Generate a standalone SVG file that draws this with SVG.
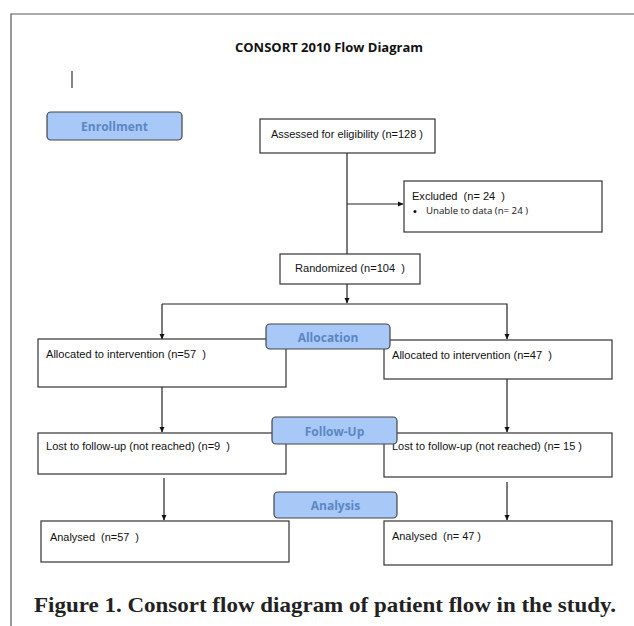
<svg xmlns="http://www.w3.org/2000/svg" width="634" height="626" viewBox="0 0 634 626">
<style>
text{white-space:pre}
.box{fill:#fff;stroke:#333;stroke-width:1.2}
.stage{fill:#a8c8f8;stroke:#444;stroke-width:1.2}
.t{font-family:"Liberation Sans",Arial,sans-serif;font-size:10px;fill:#111}
.s{font-family:"Open Sans","Liberation Sans",sans-serif;font-size:9px;fill:#111}
.st{font-family:"Open Sans","Liberation Sans",sans-serif;font-size:12px;font-weight:bold;fill:#5a87c4;text-anchor:middle}
.ln{fill:none;stroke:#222;stroke-width:1.2}
</style>
<defs>
<marker id="ah" markerWidth="6" markerHeight="6" refX="5" refY="3" orient="auto" markerUnits="userSpaceOnUse">
<path d="M0,0.5 L5.5,3 L0,5.5 Z" fill="#111"/>
</marker>
</defs>
<rect width="634" height="626" fill="#fff"/>
<path d="M634,14 H11 V626" fill="none" stroke="#555" stroke-width="1.2"/>
<text x="329" y="52" font-family="'Open Sans','Liberation Sans',sans-serif" font-size="13" font-weight="bold" fill="#111" text-anchor="middle" textLength="188" lengthAdjust="spacingAndGlyphs">CONSORT 2010 Flow Diagram</text>
<line x1="72" y1="71" x2="72" y2="88" stroke="#333" stroke-width="1.2"/>

<g id="connectors">
<path class="ln" d="M347,153 V254"/>
<path class="ln" d="M347,204 H403" marker-end="url(#ah)"/>
<path class="ln" d="M347,284 V303" marker-end="url(#ah)"/>
<path class="ln" d="M162,304 H507 V339" marker-end="url(#ah)"/>
<path class="ln" d="M162,304 V339" marker-end="url(#ah)"/>
<path class="ln" d="M162,387 V432" marker-end="url(#ah)"/>
<path class="ln" d="M507,379 V432" marker-end="url(#ah)"/>
<path class="ln" d="M164,478 V520" marker-end="url(#ah)"/>
<path class="ln" d="M507,482 V520" marker-end="url(#ah)"/>
</g>

<g id="enrollment"><rect class="stage" x="47" y="112" width="135" height="28" rx="4"/><text class="st" x="114.5" y="131">Enrollment</text></g>

<g id="assessed"><rect class="box" x="260" y="119" width="175" height="34"/><text class="t" x="271" y="138" textLength="152" lengthAdjust="spacingAndGlyphs">Assessed for eligibility (n=128 )</text></g>

<g id="excluded"><rect class="box" x="404" y="181" width="198" height="51"/>
<text class="t" x="412" y="200" textLength="93" lengthAdjust="spacingAndGlyphs">Excluded  (n= 24  )</text>
<circle cx="415" cy="211.5" r="1.5" fill="#111"/>
<text class="s" x="426" y="214" textLength="102" lengthAdjust="spacingAndGlyphs">Unable to data (n= 24 )</text></g>

<g id="randomized"><rect class="box" x="280" y="254" width="140" height="30"/><text class="t" x="295" y="272" textLength="110" lengthAdjust="spacingAndGlyphs">Randomized (n=104  )</text></g>

<g id="alloc-left"><rect class="box" x="38" y="339" width="248" height="48"/><text class="t" x="46" y="358" textLength="160" lengthAdjust="spacingAndGlyphs">Allocated to intervention (n=57  )</text></g>
<g id="alloc-right"><rect class="box" x="384" y="340" width="228" height="39"/><text class="t" x="392" y="359" textLength="160" lengthAdjust="spacingAndGlyphs">Allocated to intervention (n=47  )</text></g>
<g id="allocation"><rect class="stage" x="266" y="324" width="124" height="25" rx="4"/><text class="st" x="328" y="342">Allocation</text></g>

<g id="lost-left"><rect class="box" x="38" y="433" width="248" height="41"/><text class="t" x="46" y="450" textLength="184" lengthAdjust="spacingAndGlyphs">Lost to follow-up (not reached) (n=9  )</text></g>
<g id="lost-right"><rect class="box" x="384" y="433" width="228" height="44"/><text class="t" x="392" y="450" textLength="190" lengthAdjust="spacingAndGlyphs">Lost to follow-up (not reached) (n= 15 )</text></g>
<g id="followup"><rect class="stage" x="272" y="417" width="125" height="27" rx="4"/><text class="st" x="334.5" y="436">Follow-Up</text></g>

<g id="analysed-left"><rect class="box" x="41" y="521" width="248" height="41"/><text class="t" x="50" y="541" textLength="89" lengthAdjust="spacingAndGlyphs">Analysed  (n=57  )</text></g>
<g id="analysed-right"><rect class="box" x="384" y="521" width="228" height="44"/><text class="t" x="392" y="540" textLength="89" lengthAdjust="spacingAndGlyphs">Analysed  (n= 47 )</text></g>
<g id="analysis"><rect class="stage" x="274" y="492" width="123" height="26" rx="4"/><text class="st" x="335.5" y="510">Analysis</text></g>

<text x="34" y="612" font-family="'Liberation Serif','Times New Roman',serif" font-size="21" font-weight="bold" fill="#222" textLength="582" lengthAdjust="spacingAndGlyphs">Figure 1. Consort flow diagram of patient flow in the study.</text>
</svg>
